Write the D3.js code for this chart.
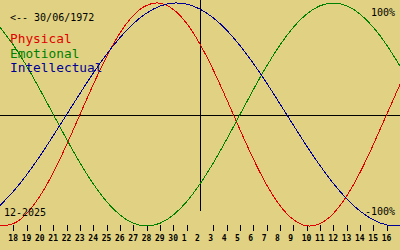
<!DOCTYPE html>
<html>
<head>
<meta charset="utf-8">
<script src="https://cdn.jsdelivr.net/npm/d3@7"></script>
<style>
  html, body { margin: 0; padding: 0; background: #e0d282; }
  svg { display: block; }
  text { font-family: "DejaVu Sans Mono", monospace; }
</style>
</head>
<body>
<div id="chart"></div>
<script>
const graphWidth = 400;
const graphHeight = 250;

// day offsets from the centre day (2 Dec), one value per day
const dayOffsets = [-15, -14, -13, -12, -11, -10, -9, -8, -7, -6, -5, -4, -3, -2, -1, 0,
  1, 2, 3, 4, 5, 6, 7, 8, 9, 10, 11, 12, 13, 14, 15];

const physical = [-99.8, -97.9, -88.8, -73.1, -52.0, -27.0, 0, 27.0, 52.0, 73.1, 88.8, 97.9, 99.8, 94.2, 81.7, 63.1,
  39.8, 13.6, -13.6, -39.8, -63.1, -81.7, -94.2, -99.8, -97.9, -88.8, -73.1, -52.0, -27.0, 0, 27.0];

const emotional = [78.2, 62.3, 43.4, 22.3, 0, -22.3, -43.4, -62.3, -78.2, -90.1, -97.5, -100, -97.5, -90.1, -78.2, -62.3,
  -43.4, -22.3, 0, 22.3, 43.4, 62.3, 78.2, 90.1, 97.5, 100, 97.5, 90.1, 78.2, 62.3, 43.4];

const intellectual = [-81.5, -69.0, -54.1, -37.2, -18.9, 0, 18.9, 37.2, 54.1, 69.0, 81.5, 91.0, 97.2, 99.9, 99.0, 94.5,
  86.6, 75.6, 61.8, 45.8, 28.2, 9.5, -9.5, -28.2, -45.8, -61.8, -75.6, -86.6, -94.5, -99.0, -99.9];

const tickOffsets = [-14, -13, -12, -11, -10, -9, -8, -7, -6, -5, -4, -3, -2, -1, 0,
  1, 2, 3, 4, 5, 6, 7, 8, 9, 10, 11, 12, 13, 14];
const tickLabels = ["18", "19", "20", "21", "22", "23", "24", "25", "26", "27", "28", "29", "30", "1", "2",
  "3", "4", "5", "6", "7", "8", "9", "10", "11", "12", "13", "14", "15", "16"];

const series = [
  {name: "Physical", values: physical, color: "#e00000"},
  {name: "Emotional", values: emotional, color: "#008000"},
  {name: "Intellectual", values: intellectual, color: "#000096"}
];

var x = d3.scaleLinear().domain([-15, 15]).range([0, graphWidth]);
var y = d3.scaleLinear().domain([-100, 100]).range([226, 3]);

var svg = d3.select("#chart").append("svg")
  .attr("width", graphWidth)
  .attr("height", graphHeight);

svg.append("rect")
  .attr("width", graphWidth)
  .attr("height", graphHeight)
  .attr("fill", "#e0d282");

// centre cross
svg.append("line")
  .attr("x1", 0).attr("x2", graphWidth)
  .attr("y1", 115.5).attr("y2", 115.5)
  .attr("stroke", "#000").attr("stroke-width", 1)
  .attr("shape-rendering", "crispEdges");

svg.append("line")
  .attr("x1", x(0) + 0.5).attr("x2", x(0) + 0.5)
  .attr("y1", 0).attr("y2", 211)
  .attr("stroke", "#000").attr("stroke-width", 1)
  .attr("shape-rendering", "crispEdges");

// day ticks
svg.append("g")
  .selectAll("line")
  .data(tickOffsets.filter(function(d) { return d !== 0; }))
  .join("line")
  .attr("x1", function(d) { return Math.round(x(d)) + 0.5; })
  .attr("x2", function(d) { return Math.round(x(d)) + 0.5; })
  .attr("y1", 225).attr("y2", 231)
  .attr("stroke", "#000")
  .attr("shape-rendering", "crispEdges");

svg.append("g")
  .selectAll("text")
  .data(tickOffsets)
  .join("text")
  .attr("x", function(d) { return x(d) - 5; })
  .attr("y", 241)
  .attr("font-size", 8)
  .attr("font-weight", "bold")
  .text(function(d, i) { return tickLabels[i]; });

// curves
var line = d3.line()
  .x(function(d, i) { return x(dayOffsets[i]); })
  .y(function(d) { return y(d); })
  .curve(d3.curveNatural);

svg.append("g")
  .selectAll("path")
  .data(series)
  .join("path")
  .attr("d", function(s) { return line(s.values); })
  .attr("fill", "none")
  .attr("stroke", function(s) { return s.color; })
  .attr("stroke-width", 1)
  .attr("shape-rendering", "crispEdges");

// labels
svg.append("text")
  .attr("x", 10).attr("y", 21)
  .attr("font-size", 10)
  .text("<-- 30/06/1972");

svg.append("g")
  .selectAll("text")
  .data(series)
  .join("text")
  .attr("x", 10)
  .attr("y", function(s, i) { return 43 + i * 14.5; })
  .attr("font-size", 12.8)
  .attr("fill", function(s) { return s.color; })
  .text(function(s) { return s.name; });

svg.append("text")
  .attr("x", 4).attr("y", 216)
  .attr("font-size", 10)
  .text("12-2025");

svg.append("text")
  .attr("x", 395).attr("y", 16)
  .attr("font-size", 10)
  .attr("text-anchor", "end")
  .text("100%");

svg.append("text")
  .attr("x", 395).attr("y", 215)
  .attr("font-size", 10)
  .attr("text-anchor", "end")
  .text("-100%");
</script>
</body>
</html>
